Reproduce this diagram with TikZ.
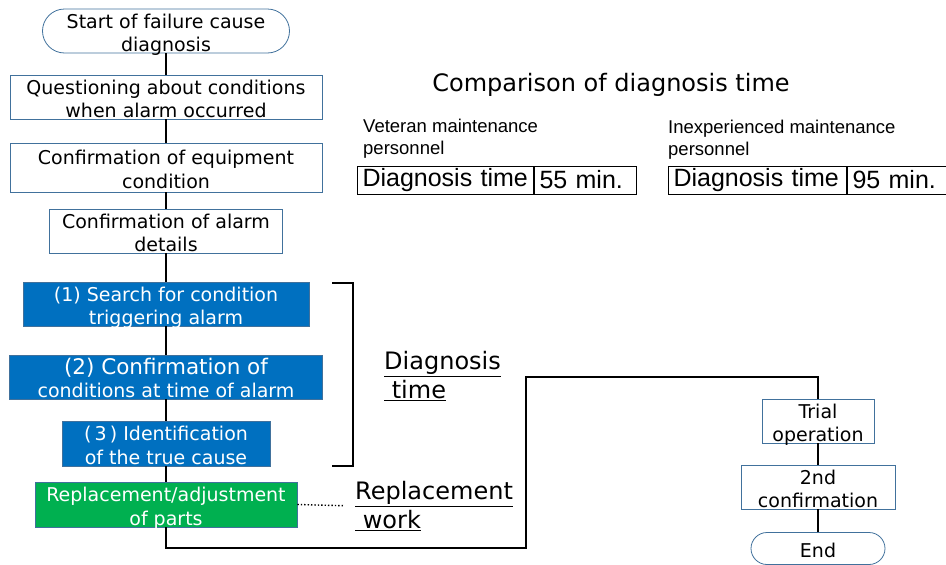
\documentclass[tikz,border=0pt]{standalone}
\usepackage{fontspec}
\setmainfont{DejaVu Sans}
\newfontfamily\cmpfont{Liberation Sans}
\usetikzlibrary{positioning}
\definecolor{edgeblue}{HTML}{41719C}
\definecolor{stepblue}{HTML}{0070C0}
\definecolor{stepgreen}{HTML}{00B050}
\newcommand\boxtext[1]{\raisebox{-8.5pt}[0pt][0pt]{\begin{tabular}{@{}c@{}}#1\end{tabular}}}

\begin{document}
\begin{tikzpicture}[x=1pt,y=-1pt,
  box/.style={draw=edgeblue,line width=0.8pt,inner sep=0pt,
    font=\fontsize{19}{23.5}\selectfont},
  terminal/.style={box,rounded corners=#1},
  stepbox/.style={box,fill=stepblue,text=white},
  workbox/.style={box,fill=stepgreen,text=white},
  cell/.style={draw,line width=1pt,inner xsep=5pt,inner ysep=0pt,minimum height=28pt,
    align=left,font=\cmpfont\fontsize{25}{28}\selectfont},
  staff/.style={anchor=north west,align=left,inner sep=0pt,
    font=\cmpfont\fontsize{18.5}{22}\selectfont},
  tag/.style={anchor=west,align=left,inner sep=0pt,font=\fontsize{24}{29}\selectfont},
  flow/.style={line width=1.7pt}]
  \useasboundingbox (0,0) rectangle (946,565);

  \node[terminal=22pt,minimum width=247pt,minimum height=44pt] (start) at (166,31)
    {\boxtext{Start of failure cause\\diagnosis}};
  \node[box,minimum width=312pt,minimum height=44pt] (quest) at (166,97)
    {\boxtext{Questioning about conditions\\when alarm occurred}};
  \node[box,minimum width=312pt,minimum height=49pt] (equip) at (166,167.5)
    {\boxtext{Confirmation of equipment\\condition}};
  \node[box,minimum width=233pt,minimum height=44pt] (alarm) at (166,231)
    {\boxtext{Confirmation of alarm\\details}};
  \node[stepbox,minimum width=286pt,minimum height=44pt] (search) at (166,304)
    {\boxtext{(1) Search for condition\\triggering alarm}};
  \node[stepbox,minimum width=313pt,minimum height=44pt] (cond) at (166,377)
    {\boxtext{{\fontsize{21.5}{23.5}\selectfont(2) Confirmation of}\\conditions at time of alarm}};
  \node[stepbox,minimum width=208pt,minimum height=45pt] (cause) at (166,443.5)
    {\boxtext{(\,3\,) Identification\\of the true cause}};
  \node[workbox,minimum width=262pt,minimum height=45pt] (repl) at (166,504.5)
    {\boxtext{Replacement/adjustment\\of parts}};

  \node[box,minimum width=112pt,minimum height=44pt] (trial) at (818,421)
    {\boxtext{Trial\\operation}};
  \node[box,minimum width=154pt,minimum height=44pt] (conf2) at (818,487)
    {\boxtext{2nd\\confirmation}};
  \node[terminal=16pt,minimum width=134pt,minimum height=32pt] (finish) at (818,548.5)
    {\boxtext{End}};

  \draw[flow] (start) -- (quest);
  \draw[flow] (quest) -- (equip);
  \draw[flow] (equip) -- (alarm);
  \draw[flow] (alarm) -- (search);
  \draw[flow] (search) -- (cond);
  \draw[flow] (cond) -- (cause);
  \draw[flow] (cause) -- (repl);
  \coordinate (low) at (526,548);
  \coordinate (high) at (526,377);
  \draw[flow] (repl.south) |- (low) -- (high) -| (trial.north);
  \draw[flow] (trial) -- (conf2);
  \draw[flow] (conf2) -- (finish);

  \draw[flow] (332,283) -- (353,283) -- (353,466) -- (332,466);
  \node[tag] (dtime) at (384,376) {\underline{Diagnosis}\\\underline{\ time}};
  \node[tag] (rwork) at (355,506) {\underline{Replacement}\\\underline{\ work}};
  \draw[line width=1.4pt,dotted,shorten >=12pt] (repl.east) -- (rwork.west);

  \node[font=\fontsize{24}{28}\selectfont] (title) at (611,85) {Comparison of diagnosis time};
  \node[staff] (vet) at (363,119) {Veteran maintenance\\personnel};
  \node[cell,text width=166pt,anchor=west] (vtime) at (357,180) {Diagnosis time};
  \node[cell,text width=92pt,right=0pt of vtime] (vmin) {55 min.};
  \node[staff] (novice) at (668,120) {Inexperienced maintenance\\personnel};
  \node[cell,text width=168pt,anchor=west] (ntime) at (668,180) {Diagnosis time};
  \node[cell,text width=89pt,right=0pt of ntime] (nmin) {95 min.};
\end{tikzpicture}
\end{document}
